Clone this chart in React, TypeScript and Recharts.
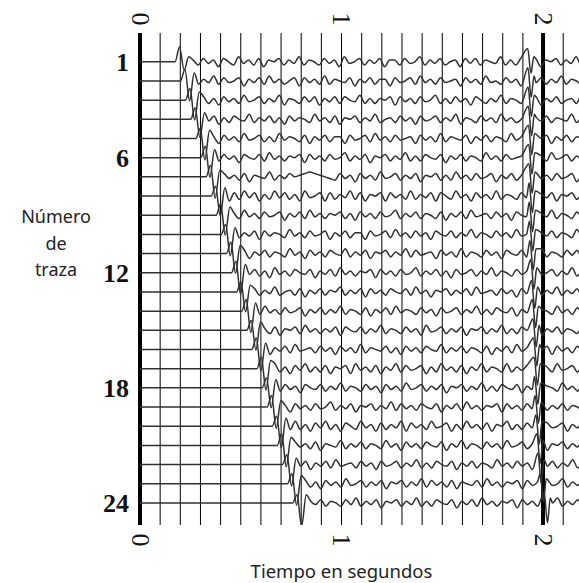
import React from 'react';
import { LineChart, Line, XAxis, YAxis, ReferenceLine } from 'recharts';

// Seismic record: 24 geophone traces, time in seconds.
const TRACE_NUMBERS = [1, 2, 3, 4, 5, 6, 7, 8, 9, 10, 11, 12, 13, 14, 15, 16, 17, 18, 19, 20, 21, 22, 23, 24];
const TRACE_TICKS = [1, 6, 12, 18, 24];
const TIME_TICKS = [0, 1, 2];
const GRID_TIMES = [0, 0.1, 0.2, 0.3, 0.4, 0.5, 0.6, 0.7, 0.8, 0.9, 1, 1.1, 1.2, 1.3, 1.4, 1.5, 1.6, 1.7, 1.8, 1.9, 2, 2.1];
const HEAVY_TIMES = [0, 2];

// First-break onset (s) and pulse amplitudes per trace (positive = downward)
const ONSET = [0.174, 0.201, 0.226, 0.252, 0.277, 0.302, 0.328, 0.353, 0.378, 0.403, 0.429, 0.454, 0.479, 0.505, 0.53, 0.555, 0.58, 0.606, 0.631, 0.656, 0.681, 0.707, 0.732, 0.757];
const FB_PEAK = [-9, -7, -7, -7, -6, -7, -7, -6, -7, -6, -7, -7, -6, -7, -6, -7, -7, -6, -7, -6, -7, -6, -6, -5];
const FB_TROUGH = [5, 12, 12, 11, 13, 12, 13, 12, 12, 13, 12, 13, 12, 13, 12, 13, 13, 12, 13, 13, 13, 13, 13, 14];
const FB_REBOUND = [-3, -5, -5, -4, -5, -5, -4, -5, -5, -4, -5, -5, -4, -5, -5, -4, -5, -5, -4, -5, -5, -4, -5, -5];

// Late event near 2 s: trough time (s) and amplitudes per trace
const EVENT_DIP = [1.94, 1.941, 1.942, 1.943, 1.944, 1.945, 1.946, 1.947, 1.948, 1.949, 1.951, 1.955, 1.959, 1.963, 1.966, 1.969, 1.972, 1.974, 1.977, 1.981, 1.986, 1.991, 2.002, 2.022];
const EV_PEAK = [-8, -8, -8, -8, -8, -8, -8, -8, -8, -8, -8, -8, -7, -7, -7, -7, -7, -7, -7, -7, -7, -7, -6, -6];
const EV_TROUGH = [7, 10, 10, 10, 10, 10, 10, 10, 10, 10, 10, 10, 10, 10, 10, 10, 10, 10, 10, 11, 11, 11, 11, 12];

// Background wiggles sampled every NOISE_STEP seconds after each first break
const NOISE_STEP = 0.025;
const WIGGLES: number[][] = [
  [-1,2,-2,1,-1,3,-2,0,2,-3, 1,-1,2,-2,3,-1,0,-2,2,-1, 1,-3,2,-1,0,2,-2,1,-1,3, -3,1,0,-2,2,-1,1,-2,3,-1, -1,2,-2,1,0,-3,2,-1,1,-2, 2,0,-1,3,-2,1,-2,2,-1,0, 1,-3,2,-1,2,-2,0,1,-2,3, -1,0,-2,2,-1,1,-3,2,-1,1],
  [2,-1,1,-3,2,-2,1,0,-2,3, -1,1,-2,2,-3,1,-1,2,0,-2, 3,-2,1,-1,2,-3,2,-1,0,1, -2,3,-1,1,-2,2,-1,-1,3,-2, 1,0,-2,2,-3,1,-1,2,-2,1, 0,-1,3,-2,1,-1,2,-3,1,0, 2,-2,1,-1,3,-2,0,1,-2,2, -1,1,-3,2,-1,0,2,-2,1],
  [-2,2,-1,3,-2,1,-1,2,-3,1, 0,-2,2,-1,1,-3,3,-1,0,2, -2,1,-2,3,-1,1,-2,2,-2,0, 1,-3,2,-1,2,-1,0,-2,3,-2, 1,-1,2,-2,1,0,-3,2,-1,2, -2,1,-1,3,-2,0,2,-1,1,-3, 2,-1,0,2,-2,1,-2,3,-1,1, -2,2,0,-1,2,-3,1,-1],
  [1,-2,3,-1,2,-2,0,1,-3,2, -1,1,-2,2,-1,3,-2,1,-1,0, 2,-3,1,-1,2,-2,3,-1,0,-2, 2,-1,1,-3,2,0,-1,2,-2,1, -1,3,-2,1,0,-2,2,-1,1,-3, 3,-1,0,2,-2,1,-1,2,-3,1, -1,2,0,-2,3,-1,1,-2,2,-1, 0,1,-3,2,-1,2,-2],
  [-1,3,-2,1,-1,2,-3,1,0,-2, 2,-1,2,-3,1,-1,0,2,-2,3, -1,1,-2,2,-1,-1,3,-2,1,0, -2,2,-3,1,-1,2,-2,1,0,-1, 3,-2,1,-1,2,-3,2,-1,0,1, -2,3,-1,1,-2,2,-1,0,2,-3, 1,-1,2,-2,1,0,-2,3,-1,1, -2,2,-1,0,2,-2],
  [2,-2,1,-1,3,-2,0,1,-2,2, -3,1,-1,2,-1,0,-2,3,-2,1, -1,2,-2,1,0,-3,2,-1,1,-2, 3,-1,0,-2,2,-1,1,-3,2,-1, 2,-2,0,1,-2,3,-1,1,-2,2, -1,0,2,-3,1,-1,2,-2,1,0, -1,3,-2,1,-1,2,-3,1,0,-2, 2,-1,1,-2,2],
  [-2,1,-1,2,-2,3,-1,0,1,-3, 2,-1,1,-2,0,-1,-2,-3,-2,-1, 0,1,2,-2,1,-1,3,-2,1,-1, 2,-3,1,0,-2,2,-1,1,-2,3, -1,0,-2,2,-1,2,-3,1,-1,2, -2,1,0,-2,3,-1,1,-2,2,-1, 0,2,-3,1,-1,2,-2,1,0,-2, 3,-1,1,-2],
  [3,-2,2,-3,1,-2,3,-1,2,-3, 1,-2,2,-1,3,-3,1,0,-2,3, -2,2,-1,1,-3,2,-2,3,-1,0, -2,3,-2,1,-1,2,-3,2,-1,1, -2,3,-2,0,2,-3,1,-1,3,-2, 1,-1,2,-3,2,-1,0,2,-2,1, -3,2,-1,1,-2,3,-1,0,-2,2, -1,1,-2],
  [-1,2,-3,1,-1,2,-2,1,0,-2, 3,-1,1,-2,2,-3,1,-1,2,-1, 0,-2,2,-1,3,-2,1,-1,2,-2, 1,0,-3,2,-1,1,-2,2,-1,0, 2,-2,3,-1,1,-2,2,-3,1,0, -1,2,-2,1,-1,3,-2,0,1,-2, 2,-1,1,-3,2,-1,0,2,-2,1, -1,2],
  [2,-1,1,-2,3,-2,1,-1,0,2, -3,1,-1,2,-2,1,0,-2,3,-1, 1,-2,2,-1,-1,3,-2,1,0,-2, 2,-3,1,-1,2,-2,1,-1,3,-2, 0,1,-2,2,-1,1,-3,2,-1,0, 2,-2,1,-1,2,-3,1,0,-2,3, -1,1,-2,2,-1,0,2,-3,1,-1, 2],
  [-2,3,-1,1,-2,2,-1,0,2,-3, 1,-1,3,-2,1,-1,2,-2,0,1, -3,2,-1,1,-2,3,-1,0,-2,2, -1,1,-3,2,-2,1,0,-1,3,-2, 1,-1,2,-3,2,-1,0,2,-2,1, -1,3,-2,0,1,-2,2,-1,1,-3, 2,-1,0,2,-2,1,-2,3,-1,1],
  [1,-2,2,-1,3,-3,1,-1,2,-2, 0,1,-2,3,-1,1,-2,2,-3,1, -1,2,-1,0,-2,3,-2,1,-1,2, -2,1,0,-3,2,-1,1,-2,2,-1, 3,-2,1,0,-2,2,-1,1,-3,2, -1,0,2,-2,1,-1,3,-2,1,0, -2,2,-1,1,-3,2,-1,0,2],
  [-2,2,-1,1,-3,2,0,-1,2,-2, 3,-1,1,-2,2,-1,0,-3,2,-1, 1,-2,3,-2,1,-1,2,-2,0,1, -2,2,-3,1,-1,3,-1,0,-2,2, -1,1,-2,2,-3,1,0,-1,2,-2, 1,-1,3,-2,1,0,-2,2,-1,1, -3,2,-1,1,-2,3,-1,0],
  [2,-3,1,-1,2,-2,1,0,-2,3, -1,1,-2,2,-1,1,-3,2,-1,0, 2,-2,3,-1,1,-2,2,-3,1,-1, 0,2,-2,1,-1,3,-2,1,0,-2, 2,-1,1,-3,2,-1,2,-2,0,1, -2,3,-1,1,-2,2,-1,0,2,-3, 1,-1,2,-2,1,-1,2],
  [-1,2,-2,3,-1,0,-2,2,-3,1, -1,2,-1,1,-2,3,-2,0,1,-2, 2,-1,1,-3,2,-1,0,2,-2,1, -1,3,-3,1,0,-2,2,-1,1,-2, 3,-1,0,-2,2,-1,1,-3,2,-1, 2,-2,0,1,-2,3,-1,1,-2,2, -1,0,2,-3,1,-1],
  [3,-1,1,-2,2,-3,1,0,-1,2, -2,1,-1,3,-2,1,-1,2,-3,2, -1,0,1,-2,2,-1,3,-2,1,-1, 2,-2,0,1,-3,2,-1,1,-2,2, -1,0,2,-2,3,-1,1,-2,2,-3, 1,-1,2,-1,0,-2,3,-2,1,-1, 2,-2,1,0,-2],
  [-3,2,-1,3,-2,1,-3,2,-1,2, -2,3,-1,0,-2,3,-3,1,-1,2, -2,3,-1,1,-3,2,-2,1,0,-2, 3,-1,2,-3,1,-1,2,-2,3,-1, 1,-3,2,-1,0,2,-3,2,-1,1, -2,3,-2,1,-1,2,-3,1,0,-2, 2,-1,1,-3],
  [2,-2,1,-1,3,-2,0,1,-2,2, -1,1,-3,2,-1,0,2,-2,1,-1, 3,-2,1,-1,2,-3,1,0,-2,2, -1,1,-2,3,-1,0,-2,2,-1,1, -3,2,-1,2,-2,0,1,-2,3,-1, 1,-2,2,-1,0,2,-3,1,-1,2, -2,1,-1],
  [-1,3,-2,1,-1,2,-2,1,0,-3, 2,-1,1,-2,3,-1,0,-2,2,-1, 1,-3,2,-2,1,-1,2,-2,0,1, -2,3,-1,1,-2,2,-3,1,-1,2, -1,0,-2,3,-2,1,-1,2,-2,1, 0,-3,2,-1,1,-2,2,-1,0,2, -2,1],
  [2,-3,2,-1,3,-2,1,-3,2,-1, 3,-2,0,2,-3,1,-1,3,-2,2, -1,1,-3,3,-2,1,-1,2,-3,1, 0,-2,3,-1,2,-3,1,-1,2,-2, 3,-1,0,-3,2,-1,2,-2,1,-1, 3,-2,1,0,-2,3,-1,1,-3,2, -1],
  [-2,1,-1,2,-2,3,-1,0,1,-3, 2,-1,1,-2,2,-1,0,2,-3,1, -1,3,-2,1,-1,2,-2,0,1,-2, 3,-1,1,-3,2,-1,0,2,-2,1, -1,2,-3,1,0,-2,2,-1,1,-2, 3,-1,0,-2,2,-1,1,-3,2,-1],
  [1,-2,3,-1,1,-2,2,-3,1,0, -1,2,-2,1,-1,3,-2,1,0,-2, 2,-1,1,-3,2,-1,2,-2,0,1, -2,3,-1,1,-2,2,-1,0,2,-3, 1,-1,2,-2,1,-1,3,-2,0,1, -2,2,-1,1,-3,2,-1,0,2],
  [-2,2,-1,3,-2,1,-1,2,-3,1, 0,-2,2,-1,1,-2,3,-1,0,-2, 2,-1,1,-3,2,-2,1,-1,2,-2, 3,-1,0,1,-2,2,-3,1,-1,2, -1,0,-2,3,-2,1,-1,2,-2,1, 0,-3,2,-1,1,-2,2,-1],
  [-1,1,-2,2,-1,0,2,-2,1,-3, 2,-1,1,-2,3,-1,0,-2,2,-1, 1,-3,2,-1,2,-2,0,1,-2,3, -1,1,-2,2,-3,1,-1,2,-1,0, -2,3,-2,1,-1,2,-2,1,0,-3, 2,-1,1,-2,2,-1,1],
];

// One amplitude unit expressed in trace-spacing units
const AMP_TO_TRACE = 1.65 / 19.2;

type Pt = { t: number; v: number };

function buildTrace(i: number): Pt[] {
  const n = TRACE_NUMBERS[i];
  const on = ONSET[i];
  const dip = EVENT_DIP[i];
  const raw: Pt[] = [
    { t: 0, v: 0 },
    { t: on, v: 0 },
    { t: on + 0.022, v: FB_PEAK[i] },
    { t: on + 0.045, v: FB_TROUGH[i] },
    { t: on + 0.068, v: FB_REBOUND[i] },
  ];
  const start = on + 0.09;
  WIGGLES[i].forEach((a, k) => {
    const t = start + k * NOISE_STEP;
    if (t > dip - 0.028 && t < dip + 0.024) return;
    raw.push({ t, v: a });
  });
  raw.push({ t: dip - 0.016, v: EV_PEAK[i] });
  raw.push({ t: dip, v: EV_TROUGH[i] });
  raw.push({ t: dip + 0.014, v: -3 });
  raw.sort((p, q) => p.t - q.t);
  return raw.map((p) => ({ t: p.t, v: n + p.v * AMP_TO_TRACE }));
}

const TRACES = TRACE_NUMBERS.map((_, i) => buildTrace(i));

const TimeTick = (props: any) => {
  const { x, y, payload } = props;
  return (
    <text
      x={x}
      y={y}
      transform={`rotate(90 ${x} ${y})`}
      textAnchor="middle"
      dominantBaseline="central"
      fontFamily="Liberation Serif"
      fontSize={26}
      fill="#111"
    >
      {payload.value}
    </text>
  );
};

const TraceTick = (props: any) => {
  const { x, y, payload } = props;
  return (
    <text
      x={x}
      y={y}
      dy={1}
      textAnchor="end"
      dominantBaseline="central"
      fontFamily="Liberation Serif"
      fontWeight="bold"
      fontSize={26}
      fill="#111"
    >
      {payload.value}
    </text>
  );
};

const TraceTitle = (props: any) => {
  const vb = props.viewBox || { x: 0, y: 25 };
  const cx = vb.x + 48;
  const y0 = vb.y + 190;
  return (
    <text x={cx} y={y0} textAnchor="middle" fontFamily="Noto Sans" fontSize={18} fill="#222">
      <tspan x={cx} dy={0}>Número</tspan>
      <tspan x={cx} dy={27}>de</tspan>
      <tspan x={cx} dy={26}>traza</tspan>
    </text>
  );
};

const TimeTitle = (props: any) => {
  const vb = props.viewBox || { x: 132, y: 517, width: 463.5 };
  const cx = vb.x + vb.width / 2.3;
  return (
    <text x={cx} y={vb.y + 53} textAnchor="middle" fontFamily="Noto Sans" fontSize={18.5} fill="#222">
      Tiempo en segundos
    </text>
  );
};

export default function App() {
  return (
    <div style={{ position: 'absolute', left: 8, top: 8, width: 571, height: 575, overflow: 'hidden', background: '#fff' }}>
      <LineChart width={596} height={575} margin={{ top: 0, right: 0.5, bottom: 0, left: 0 }}>
        <XAxis
          xAxisId="top"
          orientation="top"
          type="number"
          dataKey="t"
          domain={[0, 2.3]}
          allowDataOverflow
          ticks={TIME_TICKS}
          interval={0}
          tick={TimeTick}
          axisLine={false}
          tickLine={false}
          tickSize={0}
          tickMargin={14}
          height={25}
        />
        <XAxis
          xAxisId="bottom"
          orientation="bottom"
          type="number"
          dataKey="t"
          domain={[0, 2.3]}
          allowDataOverflow
          ticks={TIME_TICKS}
          interval={0}
          tick={TimeTick}
          axisLine={false}
          tickLine={false}
          tickSize={0}
          tickMargin={15}
          height={58}
          label={{ content: TimeTitle }}
        />
        <YAxis
          yAxisId="tr"
          type="number"
          domain={[-0.5, 25.15]}
          reversed
          allowDataOverflow
          ticks={TRACE_TICKS}
          interval={0}
          tick={TraceTick}
          axisLine={false}
          tickLine={false}
          tickSize={0}
          tickMargin={11}
          width={132}
          label={{ content: TraceTitle }}
        />
        {GRID_TIMES.map((t) => (
          <ReferenceLine
            key={`g${t}`}
            x={t}
            xAxisId="bottom"
            yAxisId="tr"
            stroke="#000"
            strokeWidth={HEAVY_TIMES.includes(t) ? 4 : 1}
          />
        ))}
        {TRACES.map((d, i) => (
          <Line
            key={`tr${i}`}
            data={d}
            dataKey="v"
            xAxisId="bottom"
            yAxisId="tr"
            type="monotone"
            dot={false}
            activeDot={false}
            stroke="#303030"
            strokeWidth={1.5}
            isAnimationActive={false}
          />
        ))}
      </LineChart>
    </div>
  );
}
